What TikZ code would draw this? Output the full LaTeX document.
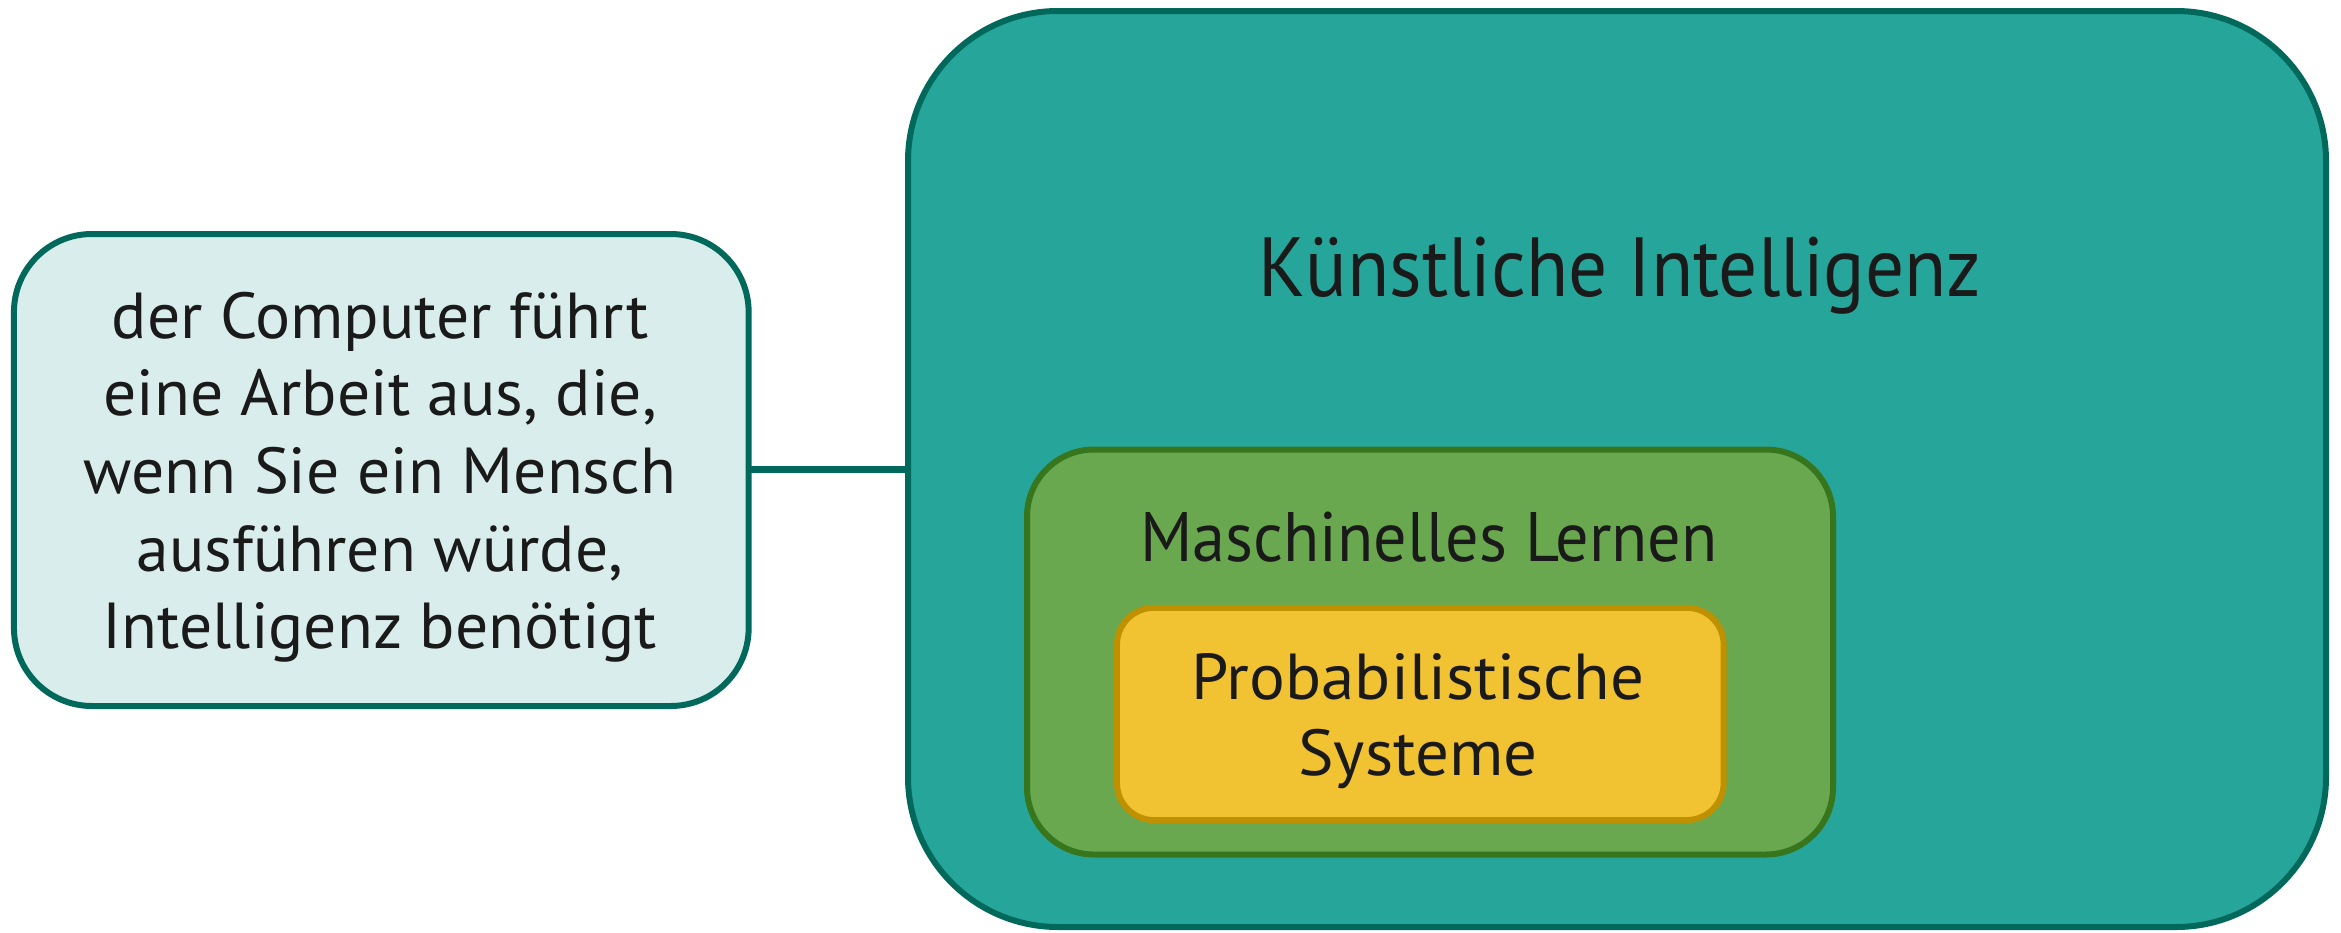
\documentclass[tikz,border=0pt]{standalone}
\usepackage{fontspec}
\usepackage{graphicx}
\setmainfont{PT Sans}
\definecolor{kifill}{HTML}{26A69A}
\definecolor{kiline}{HTML}{00695C}
\definecolor{deffill}{HTML}{D9EEEC}
\definecolor{mlfill}{HTML}{6AA84F}
\definecolor{mlline}{HTML}{38761D}
\definecolor{psfill}{HTML}{F1C232}
\definecolor{psline}{HTML}{BF9000}
\definecolor{txt}{HTML}{1A1A1A}
\tikzset{
  boxbase/.style={draw, line width=6pt, inner sep=0pt, outer sep=0pt},
  kibox/.style={boxbase, draw=kiline, fill=kifill, rounded corners=150pt, minimum width=1418pt, minimum height=916pt},
  defbox/.style={boxbase, draw=kiline, fill=deffill, rounded corners=78pt, minimum width=734.7pt, minimum height=472pt},
  mlbox/.style={boxbase, draw=mlline, fill=mlfill, rounded corners=67pt, minimum width=806pt, minimum height=405pt},
  psbox/.style={boxbase, draw=psline, fill=psfill, rounded corners=37pt, minimum width=606.7pt, minimum height=212.3pt},
  lbl/.style={text=txt, align=center, inner sep=0pt},
  conn/.style={draw=kiline, line width=7.5pt}
}
\begin{document}
\begin{tikzpicture}[x=1pt,y=-1pt]
\useasboundingbox (0,0) rectangle (2341,932);
\node[kibox] (ki) at (1617,469) {};
\node[defbox] (def) at (381.3,470) {};
\node[mlbox] (ml) at (1430,652) {};
\node[psbox] (ps) at (1420.3,713.9) {};
\draw[conn] (def.east |- 0,469.5) -- (ki.west |- 0,469.5);
\node[lbl, font=\fontsize{84}{100}\selectfont] (kit) at (1620,276) {\scalebox{0.92}[1]{Künstliche Intelligenz}};
\node[lbl, font=\fontsize{65}{77.6}\selectfont] (deft) at (380,478) {\scalebox{1.01}[1]{\begin{tabular}{@{}c@{}}der Computer führt\\eine Arbeit aus, die,\\wenn Sie ein Mensch\\ausführen würde,\\Intelligenz benötigt\end{tabular}}};
\node[lbl, font=\fontsize{70}{84}\selectfont] (mlt) at (1429,537) {\scalebox{0.946}[1]{Maschinelles Lernen}};
\node[lbl, font=\fontsize{65}{76}\selectfont] (pst) at (1418,722) {\scalebox{1.03}[1]{\begin{tabular}{@{}c@{}}Probabilistische\\Systeme\end{tabular}}};
\end{tikzpicture}
\end{document}
